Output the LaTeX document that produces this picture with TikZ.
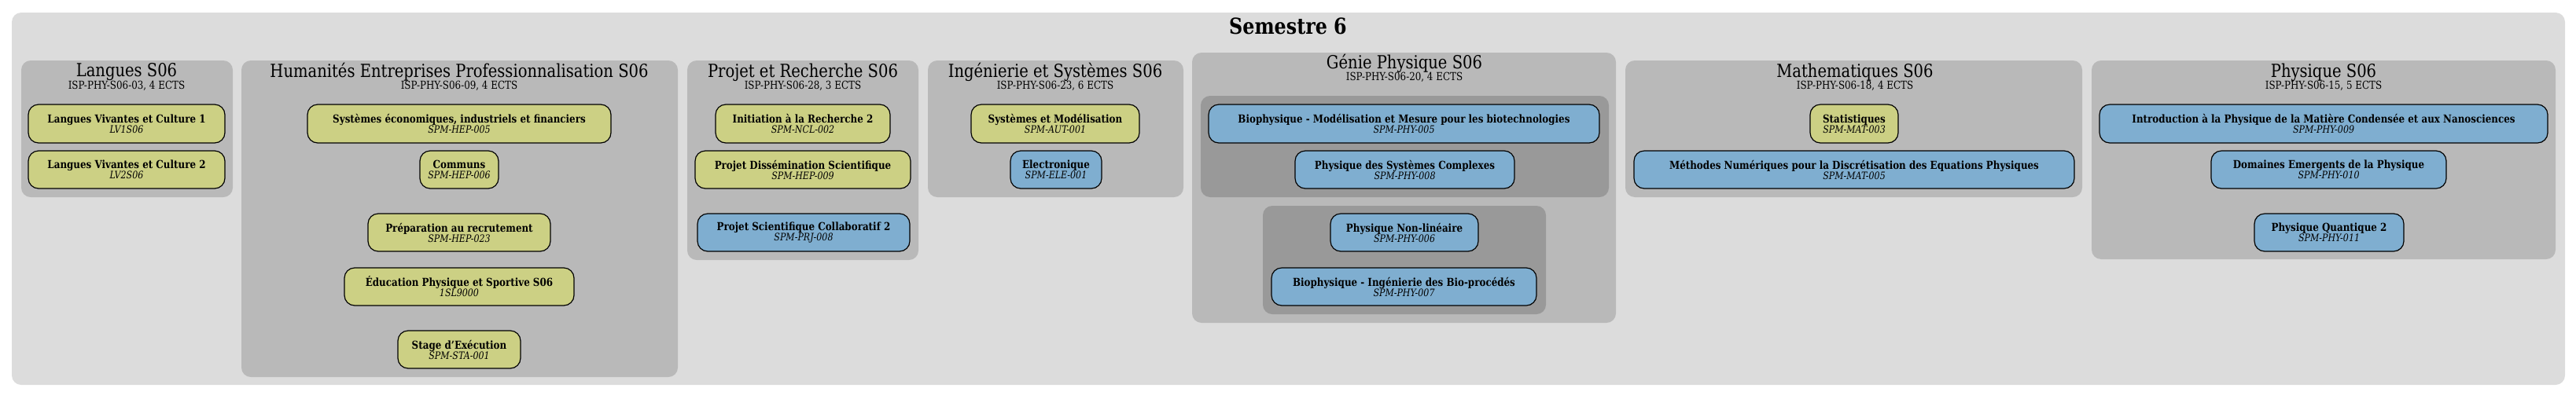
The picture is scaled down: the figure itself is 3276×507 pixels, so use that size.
\documentclass[tikz,border=0pt]{standalone}
\usepackage{fontspec}
\setmainfont{DejaVu Serif}[FakeStretch=0.85]
\usetikzlibrary{positioning,calc}
\definecolor{fondsem}{HTML}{DCDCDC}
\definecolor{fondue}{HTML}{B9B9B9}
\definecolor{fondsub}{HTML}{999999}
\definecolor{jaune}{HTML}{CCD084}
\definecolor{bleu}{HTML}{7FAED0}

% cluster box: x1 y1 x2 y2 colour
\newcommand{\bloc}[5]{\fill[#5,rounded corners=12pt] (#1,#2) rectangle (#3,#4);}
% course node: name x1 y1 x2 y2 colour title code
\newcommand{\cours}[8]{\node[ue,fill=#6,minimum width=#4-#2,minimum height=#5-#3]
(#1) at ({(#2+#4)/2},{(#3+#5)/2}) {\textbf{#7}\\[-3pt]{\itshape\fontsize{13}{14}\selectfont #8}};}

\begin{document}
\begin{tikzpicture}[x=1pt,y=-1pt]

\tikzstyle{ue}=[rectangle, rounded corners=13pt, draw=black, line width=1.2pt,
align=center, inner sep=0pt, font=\fontsize{14}{16}\selectfont]
\tikzstyle{titre}=[font=\fontsize{23}{25}\selectfont, inner sep=0pt]
\tikzstyle{soustitre}=[font=\fontsize{14}{16}\selectfont, inner sep=0pt]

\useasboundingbox (0,0) rectangle (3276,507);

%semestre
\bloc{15}{16}{3262}{490}{fondsem}
\node[font=\bfseries\fontsize{28}{30}\selectfont] (sem) at (1638,33) {Semestre 6};

%langues
\bloc{27}{77}{296}{251}{fondue}
\node[titre] (t1) at (161,92) {Langues S06};
\node[soustitre] (s1) at (161,109) {ISP-PHY-S06-03, 4 ECTS};
\cours{lv1}{36}{133}{286}{182}{jaune}{Langues Vivantes et Culture 1}{LV1S06}
\cours{lv2}{36}{192}{286}{240}{jaune}{Langues Vivantes et Culture 2}{LV2S06}

%humanites
\bloc{307}{77}{862}{480}{fondue}
\node[titre] (t2) at (584,92) {Humanités Entreprises Professionnalisation S06};
\node[soustitre] (s2) at (584,109) {ISP-PHY-S06-09, 4 ECTS};
\cours{hep5}{391}{133}{777}{182}{jaune}{Systèmes économiques, industriels et financiers}{SPM-HEP-005}
\cours{hep6}{534}{192}{634}{240}{jaune}{Communs}{SPM-HEP-006}
\cours{hep23}{468}{272}{700}{320}{jaune}{Préparation au recrutement}{SPM-HEP-023}
\cours{eps}{438}{341}{730}{389}{jaune}{Éducation Physique et Sportive S06}{1SL9000}
\cours{sta}{506}{421}{662}{469}{jaune}{Stage d'Exécution}{SPM-STA-001}

%projet
\bloc{874}{77}{1168}{331}{fondue}
\node[titre] (t3) at (1021,92) {Projet et Recherche S06};
\node[soustitre] (s3) at (1021,109) {ISP-PHY-S06-28, 3 ECTS};
\cours{ncl}{910}{133}{1132}{182}{jaune}{Initiation à la Recherche 2}{SPM-NCL-002}
\cours{hep9}{884}{192}{1158}{240}{jaune}{Projet Dissémination Scientifique}{SPM-HEP-009}
\cours{prj}{887}{272}{1157}{320}{bleu}{Projet Scientifique Collaboratif 2}{SPM-PRJ-008}

%ingenierie
\bloc{1180}{77}{1505}{251}{fondue}
\node[titre] (t4) at (1342,92) {Ingénierie et Systèmes S06};
\node[soustitre] (s4) at (1342,109) {ISP-PHY-S06-23, 6 ECTS};
\cours{aut}{1235}{133}{1449}{182}{jaune}{Systèmes et Modélisation}{SPM-AUT-001}
\cours{ele}{1285}{192}{1401}{240}{bleu}{Electronique}{SPM-ELE-001}

%genie physique
\bloc{1516}{67}{2055}{411}{fondue}
\node[titre] (t5) at (1786,81) {Génie Physique S06};
\node[soustitre] (s5) at (1786,98) {ISP-PHY-S06-20, 4 ECTS};
\bloc{1527}{122}{2046}{251}{fondsub}
\cours{phy5}{1537}{133}{2034}{182}{bleu}{Biophysique - Modélisation et Mesure pour les biotechnologies}{SPM-PHY-005}
\cours{phy8}{1647}{192}{1926}{240}{bleu}{Physique des Systèmes Complexes}{SPM-PHY-008}
\bloc{1606}{262}{1966}{400}{fondsub}
\cours{phy6}{1692}{272}{1880}{320}{bleu}{Physique Non-linéaire}{SPM-PHY-006}
\cours{phy7}{1617}{341}{1954}{389}{bleu}{Biophysique - Ingénierie des Bio-procédés}{SPM-PHY-007}

%mathematiques
\bloc{2067}{77}{2648}{251}{fondue}
\node[titre] (t6) at (2359,92) {Mathematiques S06};
\node[soustitre] (s6) at (2359,109) {ISP-PHY-S06-18, 4 ECTS};
\cours{mat3}{2302}{133}{2414}{182}{jaune}{Statistiques}{SPM-MAT-003}
\cours{mat5}{2078}{192}{2638}{240}{bleu}{Méthodes Numériques pour la Discrétisation des Equations Physiques}{SPM-MAT-005}

%physique
\bloc{2660}{77}{3250}{330}{fondue}
\node[titre] (t7) at (2955,92) {Physique S06};
\node[soustitre] (s7) at (2955,109) {ISP-PHY-S06-15, 5 ECTS};
\cours{phy9}{2670}{133}{3240}{182}{bleu}{Introduction à la Physique de la Matière Condensée et aux Nanosciences}{SPM-PHY-009}
\cours{phy10}{2812}{192}{3111}{240}{bleu}{Domaines Emergents de la Physique}{SPM-PHY-010}
\cours{phy11}{2867}{272}{3057}{320}{bleu}{Physique Quantique 2}{SPM-PHY-011}

\end{tikzpicture}
\end{document}
